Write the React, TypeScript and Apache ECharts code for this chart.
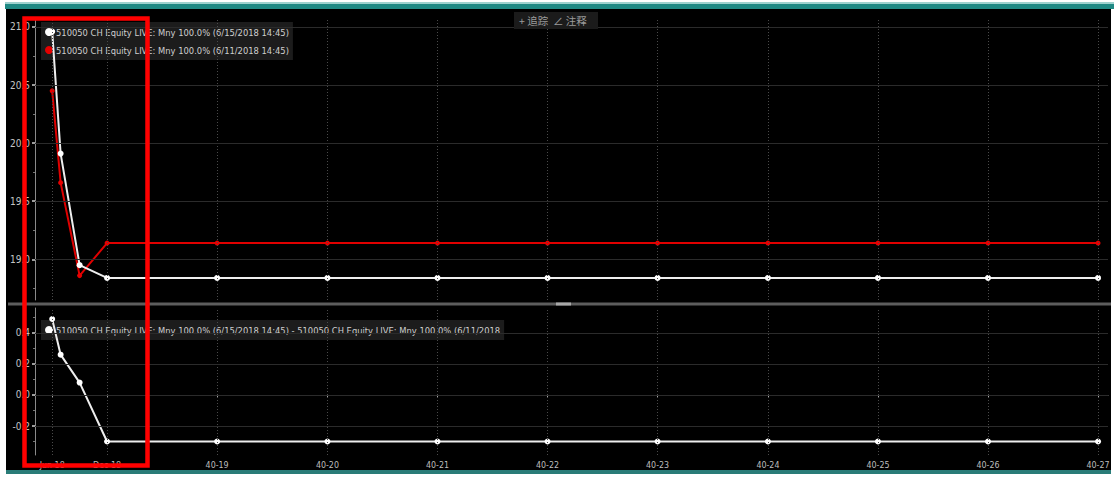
import React, { useEffect, useRef } from "react";
import * as echarts from "echarts";

// ---------- data ----------
const expiryDates = [
  "2018-06-27", "2018-07-25", "2018-09-26", "2018-12-26",
  "2019-12-26", "2020-12-26", "2021-12-26", "2022-12-26", "2023-12-26",
  "2024-12-26", "2025-12-26", "2026-12-26", "2027-12-26",
];
const vol0615 = [20.96, 19.91, 18.95, 18.84, 18.84, 18.84, 18.84, 18.84, 18.84, 18.84, 18.84, 18.84, 18.84];
const vol0611 = [20.45, 19.66, 18.86, 19.14, 19.14, 19.14, 19.14, 19.14, 19.14, 19.14, 19.14, 19.14, 19.14];
const volDiff = [0.49, 0.26, 0.08, -0.3, -0.3, -0.3, -0.3, -0.3, -0.3, -0.3, -0.3, -0.3, -0.3];

const xTickDates = [
  "2018-06-27", "2018-12-26", "2019-12-26", "2020-12-26", "2021-12-26", "2022-12-26",
  "2023-12-26", "2024-12-26", "2025-12-26", "2026-12-26", "2027-12-26",
];
const xTickLabels = ["Jun 18", "Dec 18", "40-19", "40-20", "40-21", "40-22", "40-23", "40-24", "40-25", "40-26", "40-27"];
const topYTicks = [19, 19.5, 20, 20.5, 21];
const bottomYTicks = [-0.2, 0, 0.2, 0.4];

const name0615 = "510050 CH Equity LIVE: Mny 100.0% (6/15/2018 14:45)";
const name0611 = "510050 CH Equity LIVE: Mny 100.0% (6/11/2018 14:45)";
const nameDiff = "510050 CH Equity LIVE: Mny 100.0% (6/15/2018 14:45) - 510050 CH Equity LIVE: Mny 100.0% (6/11/2018";
const toolbarText = "+ 追踪  ∠ 注释";

const xMin = "2018-05-01";
const xMax = "2028-01-28";

// ---------- helpers ----------
// dates -> day number (days since epoch), used on a value axis
const dn = (d: string) => Math.round(Date.UTC(+d.slice(0, 4), +d.slice(5, 7) - 1, +d.slice(8, 10)) / 86400000);
const FONT = '"Liberation Sans Narrow", "DejaVu Sans Condensed", "Arial Narrow", sans-serif';

function xLabel(v: number) {
  const i = xTickDates.findIndex((d) => Math.abs(dn(d) - v) < 0.5);
  return i >= 0 ? xTickLabels[i] : "";
}

function gridLines(yTicks: number[]) {
  return [
    ...xTickDates.map((d) => ({
      xAxis: dn(d),
      lineStyle: { type: [1, 2] as any, color: "#4a4a4a", width: 1 },
    })),
    ...yTicks.map((v) => ({
      yAxis: v,
      lineStyle: { type: "solid" as const, color: "#2b2b2b", width: 1 },
    })),
  ];
}

export default function App() {
  const ref = useRef<HTMLDivElement>(null);

  useEffect(() => {
    if (!ref.current) return;
    const chart = echarts.init(ref.current, undefined, { renderer: "svg" });

    const yAxisCommon = {
      type: "value" as const,
      axisLine: { show: true, lineStyle: { color: "#8a8a8a", width: 1 } },
      axisTick: { show: true, length: 3, lineStyle: { color: "#d0d0d0", width: 1.5 } },
      minorTick: { show: true, splitNumber: 2, length: 2, lineStyle: { color: "#777" } },
      splitLine: { show: false },
      axisLabel: { color: "#c4c4c4", fontSize: 10, fontFamily: FONT, margin: 5 },
    };

    const legendCommon = {
      orient: "vertical" as const,
      left: 41,
      itemGap: 4,
      itemWidth: 8,
      itemHeight: 8,
      itemStyle: { borderWidth: 0 },
      icon: "circle",
      backgroundColor: "rgba(40,40,40,0.7)",
      padding: [3, 4, 3, 4],
      selectedMode: false,
      textStyle: { color: "#cfcfcf", fontSize: 9.3, fontFamily: FONT, lineHeight: 14, padding: [0, 0, 0, -2] },
    };

    chart.setOption({
      animation: false,
      backgroundColor: "transparent",
      grid: [
        { left: 35, right: 6, top: 20, height: 280 },
        { left: 35, right: 6, top: 308, height: 147 },
      ],
      xAxis: [
        { type: "value", gridIndex: 0, min: dn(xMin), max: dn(xMax), show: false },
        {
          type: "value",
          gridIndex: 1,
          min: dn(xMin),
          max: dn(xMax),
          axisLine: { show: true, lineStyle: { color: "#8a8a8a" } },
          axisTick: { show: true, length: 3, customValues: xTickDates.map(dn), lineStyle: { color: "#aaa" } },
          splitLine: { show: false },
          axisLabel: {
            customValues: xTickDates.map(dn),
            formatter: (v: number) => xLabel(v),
            color: "#bdbdbd",
            fontSize: 8.8,
            fontFamily: FONT,
            margin: 5,
          },
        },
      ],
      yAxis: [
        {
          ...yAxisCommon,
          gridIndex: 0,
          min: 18.65,
          max: 21.06,
          axisTick: { ...yAxisCommon.axisTick, customValues: topYTicks },
          axisLabel: { ...yAxisCommon.axisLabel, customValues: topYTicks, formatter: (v: number) => v.toFixed(1) },
        },
        {
          ...yAxisCommon,
          gridIndex: 1,
          min: -0.387,
          max: 0.561,
          axisTick: { ...yAxisCommon.axisTick, customValues: bottomYTicks },
          axisLabel: { ...yAxisCommon.axisLabel, customValues: bottomYTicks, formatter: (v: number) => v.toFixed(1) },
        },
      ],
      legend: [
        { ...legendCommon, top: 22, data: [name0615, name0611] },
        { ...legendCommon, top: 320, data: [nameDiff] },
      ],
      series: [
        {
          type: "line",
          name: "_grid0",
          xAxisIndex: 0,
          yAxisIndex: 0,
          data: [],
          z: 1,
          silent: true,
          markLine: { silent: true, symbol: ["none", "none"], label: { show: false }, data: gridLines(topYTicks) },
        },
        {
          type: "line",
          name: "_grid1",
          xAxisIndex: 1,
          yAxisIndex: 1,
          data: [],
          z: 1,
          silent: true,
          markLine: { silent: true, symbol: ["none", "none"], label: { show: false }, data: gridLines(bottomYTicks) },
        },
        {
          type: "line",
          name: name0611,
          xAxisIndex: 0,
          yAxisIndex: 0,
          data: expiryDates.map((d, i) => [dn(d), vol0611[i]]),
          symbol: "circle",
          symbolSize: 5,
          showAllSymbol: true,
          itemStyle: { color: "#e60000" },
          lineStyle: { color: "#e00000", width: 2 },
          z: 3,
        },
        {
          type: "line",
          name: name0615,
          xAxisIndex: 0,
          yAxisIndex: 0,
          data: expiryDates.map((d, i) => [dn(d), vol0615[i]]),
          symbol: "circle",
          symbolSize: 6,
          showAllSymbol: true,
          itemStyle: { color: "#ffffff" },
          lineStyle: { color: "#eeeeee", width: 2 },
          z: 4,
        },
        {
          type: "line",
          name: nameDiff,
          xAxisIndex: 1,
          yAxisIndex: 1,
          data: expiryDates.map((d, i) => [dn(d), volDiff[i]]),
          symbol: "circle",
          symbolSize: 6,
          showAllSymbol: true,
          itemStyle: { color: "#ffffff" },
          lineStyle: { color: "#eeeeee", width: 2 },
          z: 4,
        },
      ],
      graphic: [
        { type: "rect", shape: { x: 8, y: 302.5, width: 1103, height: 3 }, style: { fill: "#5d5d5d" }, z: 50, silent: true },
        { type: "rect", shape: { x: 556, y: 302.5, width: 15, height: 3 }, style: { fill: "#a8a8a8" }, z: 51, silent: true },
        { type: "rect", shape: { x: 514, y: 12, width: 84, height: 17 }, style: { fill: "#1b1b1b" }, z: 50, silent: true },
        {
          type: "text",
          x: 519,
          y: 20.5,
          style: {
            text: toolbarText,
            fill: "#9a9a9a",
            fontSize: 10.5,
            fontFamily: '"Noto Sans CJK SC", sans-serif',
            verticalAlign: "middle",
          },
          z: 51,
          silent: true,
        },
        {
          type: "rect",
          shape: { x: 24.5, y: 18.5, width: 123, height: 447 },
          style: { fill: "rgba(0,0,0,0)", stroke: "#ff0000", lineWidth: 4.5 },
          z: 100,
          silent: true,
        },
      ],
    });

    return () => chart.dispose();
  }, []);

  return (
    <div style={{ position: "fixed", left: 0, top: 0, width: 1114, height: 478, background: "#ffffff", overflow: "hidden" }}>
      <div style={{ position: "absolute", left: 5, top: 2, width: 1109, height: 2, background: "#9fd2cf" }} />
      <div style={{ position: "absolute", left: 5, top: 4, width: 1109, height: 5, background: "#1f8984" }} />
      <div style={{ position: "absolute", left: 6, top: 9, width: 1105, height: 461, background: "#000000" }} />
      <div style={{ position: "absolute", left: 6, top: 470, width: 1105, height: 4, background: "#2a7c78" }} />
      <div ref={ref} style={{ position: "absolute", left: 0, top: 0, width: 1114, height: 478 }} />
    </div>
  );
}
